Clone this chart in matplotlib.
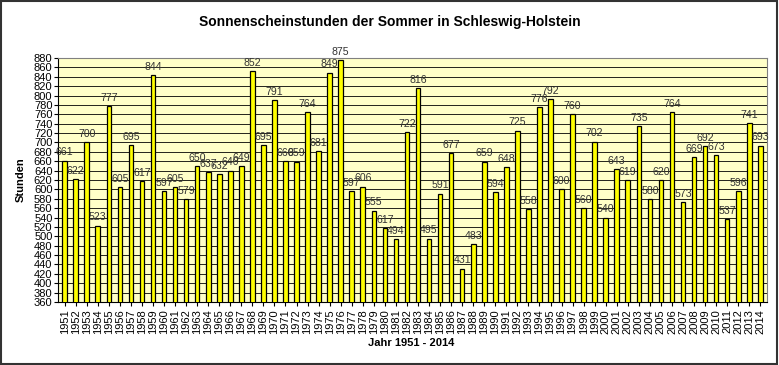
import matplotlib
matplotlib.use('Agg')
import matplotlib.pyplot as plt
from matplotlib.patches import Rectangle

plt.rcParams['font.family'] = ['Liberation Sans', 'DejaVu Sans']

years = list(range(1951, 2015))
hours = [661, 622, 700, 523, 777, 605, 695, 617, 844, 597,
         605, 579, 650, 637, 632, 640, 649, 852, 695, 791,
         660, 659, 764, 681, 849, 875, 597, 606, 555, 517,
         494, 722, 816, 495, 591, 677, 431, 483, 659, 594,
         648, 725, 558, 776, 792, 600, 760, 560, 702, 540,
         643, 619, 735, 580, 620, 764, 573, 669, 692, 673,
         537, 596, 741, 693]
# the source chart prints 617 above the 1980 bar
labels = [str(v) for v in hours]
labels[years.index(1980)] = '617'

fig = plt.figure(figsize=(7.79, 3.65), dpi=100)
ax = fig.add_axes([0.0745, 0.1726, 0.910, 0.6684])
ax.set_facecolor('#FFFFC8')

x = list(range(len(years)))
ax.bar(x, hours, width=0.42, color='#FFFF00', edgecolor='black', linewidth=0.9, zorder=3)
for xi, v, lab in zip(x, hours, labels):
    ax.text(xi, v + 7, lab, ha='center', va='bottom', fontsize=7.6, color='#333333', zorder=4)

ax.set_ylim(360, 880)
ax.set_xlim(-0.6, len(years) - 0.4)
ax.set_yticks(range(360, 881, 20))
ax.yaxis.grid(True, color='black', linewidth=0.6, zorder=0)
ax.set_xticks(x)
ax.set_xticklabels([str(y) for y in years], rotation=90, fontsize=8)
ax.tick_params(axis='y', labelsize=8, length=3, pad=1)
ax.tick_params(axis='x', length=3, pad=2)
for s in ax.spines.values():
    s.set_color('#808080')
ax.spines['left'].set_color('black')
ax.spines['bottom'].set_color('black')

fig.text(0.5, 1 - 22 / 365, 'Sonnenscheinstunden der Sommer in Schleswig-Holstein',
         ha='center', va='center', fontsize=10, fontweight='bold')
fig.text(411 / 779, 1 - 343 / 365, 'Jahr 1951 - 2014', ha='center', va='center',
         fontsize=8, fontweight='bold')
fig.text(21 / 779, 1 - 180 / 365, 'Stunden', ha='center', va='center',
         rotation=90, fontsize=8, fontweight='bold')

fig.patches.append(Rectangle((0.001, 0.002), 0.997, 0.995, transform=fig.transFigure,
                             fill=False, edgecolor='#333333', linewidth=1.5))

fig.savefig('out.png', dpi=100)
